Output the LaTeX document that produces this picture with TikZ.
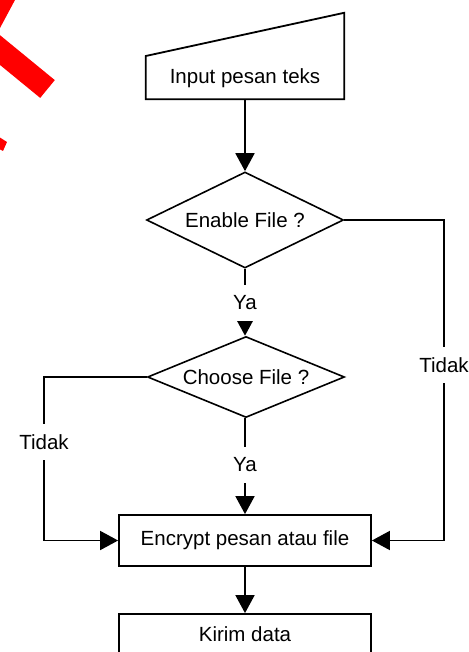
\documentclass[tikz,border=0pt]{standalone}
\usepackage{fontspec}
\setmainfont{Liberation Sans}
\usetikzlibrary{arrows.meta,shapes.geometric}
\tikzset{
  txt/.style={font=\fontsize{20.5}{24}\selectfont, inner sep=0pt},
  procbox/.style={txt, draw, line width=1.8pt, minimum width=252pt, inner sep=0pt},
  decision/.style={txt, draw, diamond, line width=1.6pt, inner sep=0pt, minimum width=197pt},
  inputbox/.style={minimum width=198pt, minimum height=86pt, inner sep=0pt},
  flow/.style={line width=1.8pt, -{Triangle[width=19pt,length=18pt]}},
  gaplabel/.style={txt, fill=white, minimum height=36pt, inner xsep=2pt},
  redmark/.style={fill=red, draw=none}
}
\begin{document}
\begin{tikzpicture}[x=1pt,y=-1pt]
\useasboundingbox (0,0) rectangle (468,652);
% red marks (partly outside the picture)
\fill[redmark] (54.8,80.1) -- (40.2,97.9) -- (-37.3,34.4) -- (-22.7,16.6) -- cycle;
\fill[redmark] (-9.4,45.6) -- (24.4,-17.6) -- (4.1,-28.5) -- (-29.7,34.7) -- cycle;
\fill[redmark] (-12,130) -- (7,142) -- (3,151) -- (-16,141) -- cycle;
% nodes
\node[inputbox] (in) at (245,56) {};
\draw[line width=1.8pt] (in.south west) -- (in.west) -- (in.north east) -- (in.south east) -- cycle;
\node[txt] (intext) at (245,78) {Input pesan teks};
\node[decision, aspect=2.05, minimum height=96pt] (en) at (245,220) {Enable File ?};
\node[decision, aspect=2.43, minimum height=81pt] (ch) at (246,377) {Choose File ?};
\node[procbox, minimum height=51pt] (enc) at (245,540.5) {Encrypt pesan atau file};
\node[procbox, minimum height=40pt] (kir) at (245,634) {Kirim data};
\coordinate (rt) at (444,220);
\coordinate (lt) at (44,377);
% connectors
\draw[flow] (in.south) -- (en.north);
\draw[flow] (en.south) -- (en.south |- ch.north);
\draw[flow] (ch.south -| enc.north) -- (enc.north);
\draw[flow] (enc.south) -- (kir.north);
\draw[flow] (en.east) -- (rt) |- (enc.east);
\draw[flow] (ch.west) -- (lt) |- (enc.west);
% labels on connectors
\node[gaplabel] (ya1) at (245,303) {Ya};
\node[gaplabel] (ya2) at (245,465) {Ya};
\node[gaplabel] (t1) at (444,365) {Tidak};
\node[gaplabel] (t2) at (44,442) {Tidak};
\end{tikzpicture}
\end{document}
